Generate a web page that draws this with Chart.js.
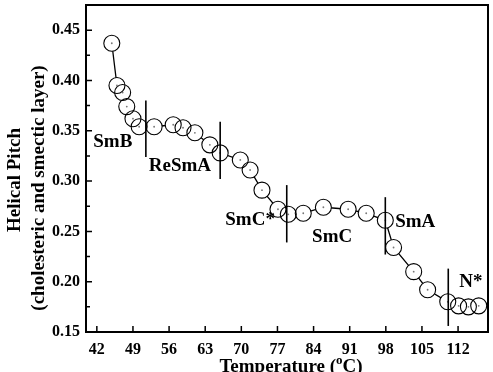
<!DOCTYPE html>
<html>
<head>
<meta charset="utf-8">
<script src="https://cdn.jsdelivr.net/npm/chart.js@4"></script>
<style>body{margin:0;background:#fff}</style>
</head>
<body>
<canvas id="pitch" width="493" height="372"></canvas>
<script>
// temperatures (°C) and helical pitch
const temps = [44.9, 45.9, 47.0, 47.8, 49.0, 50.2, 53.1, 56.8, 58.7, 61.0, 63.9, 65.9, 69.8, 71.7,
  74.0, 77.1, 79.1, 82.0, 85.9, 90.7, 94.2, 97.9, 99.5, 103.4, 106.1, 110.0, 112.1, 114.0, 116.0];
const pitch = [0.437, 0.395, 0.388, 0.374, 0.362, 0.354, 0.354, 0.356, 0.353, 0.348, 0.336, 0.328, 0.321, 0.311,
  0.291, 0.272, 0.267, 0.268, 0.274, 0.272, 0.268, 0.261, 0.234, 0.210, 0.192, 0.180, 0.176, 0.175, 0.176];

const xTicks = [42, 49, 56, 63, 70, 77, 84, 91, 98, 105, 112];
const yTicks = [0.15, 0.20, 0.25, 0.30, 0.35, 0.40, 0.45];
const yMinorTicks = [0.175, 0.225, 0.275, 0.325, 0.375, 0.425];

// phase names and where they sit
const phaseNames = ["SmB", "ReSmA", "SmC*", "SmC", "SmA", "N*"];
const phaseLabelT = [45.1, 58.1, 71.7, 87.6, 103.7, 114.5];
const phaseLabelP = [0.339, 0.315, 0.261, 0.244, 0.259, 0.200];

// phase boundaries (vertical bars)
const boundaryT = [51.5, 65.9, 78.8, 97.9, 110.1];
const boundaryTop = [0.380, 0.359, 0.296, 0.284, 0.213];
const boundaryBottom = [0.324, 0.302, 0.239, 0.227, 0.156];

const pts = temps.map((t, i) => ({ x: t, y: pitch[i] }));
const serif = '"Liberation Serif", "DejaVu Serif", serif';

const frame = {
  id: "frame",
  afterDatasetsDraw(chart) {
    const { ctx, scales: { x, y } } = chart;
    ctx.save();
    ctx.strokeStyle = "#000";
    ctx.lineWidth = 1.6;
    boundaryT.forEach((t, i) => {
      const px = x.getPixelForValue(t);
      ctx.beginPath();
      ctx.moveTo(px, y.getPixelForValue(boundaryTop[i]));
      ctx.lineTo(px, y.getPixelForValue(boundaryBottom[i]));
      ctx.stroke();
    });
    ctx.fillStyle = "#000";
    ctx.font = "bold 19px " + serif;
    ctx.textAlign = "center";
    ctx.textBaseline = "middle";
    phaseNames.forEach((n, i) => {
      ctx.fillText(n, x.getPixelForValue(phaseLabelT[i]), y.getPixelForValue(phaseLabelP[i]));
    });
    ctx.restore();
  },
  afterDraw(chart) {
    const { ctx, chartArea: a, scales: { x, y } } = chart;
    ctx.save();
    ctx.strokeStyle = "#000";
    ctx.lineWidth = 2;
    ctx.strokeRect(a.left, a.top, a.right - a.left, a.bottom - a.top);

    // inward ticks
    ctx.lineWidth = 1.5;
    ctx.beginPath();
    xTicks.forEach((t) => {
      const px = x.getPixelForValue(t);
      ctx.moveTo(px, a.bottom);
      ctx.lineTo(px, a.bottom - 6);
    });
    yTicks.forEach((v) => {
      const py = y.getPixelForValue(v);
      ctx.moveTo(a.left, py);
      ctx.lineTo(a.left + 6, py);
    });
    yMinorTicks.forEach((v) => {
      const py = y.getPixelForValue(v);
      ctx.moveTo(a.left, py);
      ctx.lineTo(a.left + 4, py);
    });
    ctx.stroke();

    // axis titles
    ctx.fillStyle = "#000";
    ctx.textBaseline = "alphabetic";
    const part1 = "Temperature (";
    const part3 = "C)";
    ctx.font = "bold 19px " + serif;
    const w1 = ctx.measureText(part1).width;
    const w3 = ctx.measureText(part3).width;
    ctx.font = "bold 13px " + serif;
    const w2 = ctx.measureText("o").width;
    const tx = 291 - (w1 + w2 + w3) / 2;
    const base = 372;
    ctx.textAlign = "left";
    ctx.font = "bold 19px " + serif;
    ctx.fillText(part1, tx, base);
    ctx.font = "bold 13px " + serif;
    ctx.fillText("o", tx + w1, base - 8);
    ctx.font = "bold 19px " + serif;
    ctx.fillText(part3, tx + w1 + w2, base);

    ctx.textAlign = "center";
    ctx.save();
    ctx.translate(20, 180);
    ctx.rotate(-Math.PI / 2);
    ctx.fillText("Helical Pitch", 0, 0);
    ctx.restore();
    ctx.translate(44, 188);
    ctx.rotate(-Math.PI / 2);
    ctx.fillText("(cholesteric and smectic layer)", 0, 0);
    ctx.restore();
  }
};

new Chart(document.getElementById("pitch"), {
  type: "scatter",
  data: {
    datasets: [
      {
        data: pts, showLine: true, borderColor: "#000", borderWidth: 1.3,
        pointRadius: 8, pointBackgroundColor: "#fff", pointBorderWidth: 0,
        pointBorderColor: "rgba(0,0,0,0)", order: 3
      },
      {
        data: pts, showLine: false, pointRadius: 8,
        pointBackgroundColor: "rgba(0,0,0,0)", pointBorderColor: "#000",
        pointBorderWidth: 1.1, order: 2
      },
      {
        data: pts, showLine: false, pointRadius: 0.9,
        pointBackgroundColor: "#777", pointBorderWidth: 0, order: 1
      }
    ]
  },
  options: {
    responsive: false,
    animation: false,
    events: [],
    layout: { autoPadding: false, padding: { top: 5, right: 5, left: 0, bottom: 0 } },
    plugins: { legend: { display: false }, tooltip: { enabled: false } },
    scales: {
      x: {
        type: "linear", min: 39.9, max: 117.8,
        afterBuildTicks: (s) => { s.ticks = xTicks.map((v) => ({ value: v })); },
        afterFit: (s) => { s.height = 40; s.paddingLeft = 0; s.paddingRight = 0; },
        grid: { display: false, drawTicks: false },
        border: { display: false },
        ticks: {
          color: "#000", padding: 8, maxRotation: 0, autoSkip: false,
          font: { family: serif, size: 16, weight: "bold" }
        }
      },
      y: {
        type: "linear", min: 0.15, max: 0.475,
        afterBuildTicks: (s) => { s.ticks = yTicks.map((v) => ({ value: v })); },
        afterFit: (s) => { s.width = 86; s.paddingTop = 0; s.paddingBottom = 0; },
        grid: { display: false, drawTicks: false },
        border: { display: false },
        ticks: {
          color: "#000", padding: 6, autoSkip: false,
          font: { family: serif, size: 16, weight: "bold" },
          callback: (v) => v.toFixed(2)
        }
      }
    }
  },
  plugins: [frame]
});
</script>
</body>
</html>
